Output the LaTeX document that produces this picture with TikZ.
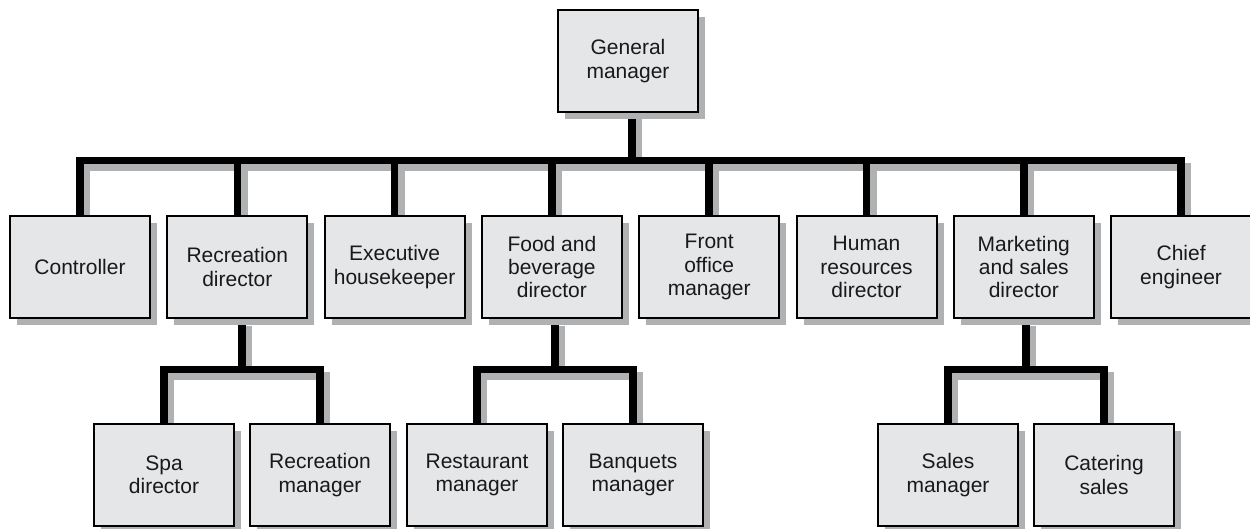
\documentclass[tikz,border=0pt]{standalone}
\usepackage{fontspec}
\setmainfont{Liberation Sans}
\usetikzlibrary{shadows,calc}
\definecolor{boxfill}{RGB}{229,230,232}
\definecolor{shade}{RGB}{176,177,179}
\pgfdeclarelayer{back}
\pgfsetlayers{back,main}

\tikzset{
  unit/.style={draw=black, line width=2pt, fill=boxfill,
    minimum width=140pt, minimum height=102pt, inner sep=0pt,
    align=center, text=black!90, font=\fontsize{21}{23.4}\selectfont,
    general shadow={fill=shade, shadow xshift=7pt, shadow yshift=-7pt}},
  link/.style={line width=7.5pt, line join=miter, draw=black},
  linkshade/.style={line width=7.5pt, line join=miter, draw=shade},
}

% all reporting lines of the chart, drawn in the given style
\newcommand\orglinks[1]{%
  \draw[#1] (ctl.north) -- (ctl.north |- busA) -- (ce.north |- busA) -- (ce.north);
  \foreach \n in {rd,eh,fb,fo,hr,ms} \draw[#1] (\n.north) -- (\n.north |- busA);
  \draw[#1] (gm.south -| gmdrop) -- (gmdrop |- busA);
  % recreation branch
  \draw[#1] (spa.north) -- (spa.north |- busB) -- (rm.north |- busB) -- (rm.north);
  \draw[#1] (rd.south -| mA) -- (mA |- busB);
  % food and beverage branch
  \draw[#1] (rs.north) -- (rs.north |- busB) -- (bq.north |- busB) -- (bq.north);
  \draw[#1] (fb.south -| mB) -- (mB |- busB);
  % marketing branch
  \draw[#1] (sm.north) -- (sm.north |- busB) -- (cs.north |- busB) -- (cs.north);
  \draw[#1] (ms.south -| mC) -- (mC |- busB);
}

\begin{document}
\begin{tikzpicture}[x=1pt,y=-1pt]
  \useasboundingbox (0,0) rectangle (1250,529);
  \clip (0,0) rectangle (1250,529);

  % top
  \node[unit] (gm) at (628,61) {General\\manager};

  % department heads
  \node[unit] (ctl) at (80,267)     {Controller};
  \node[unit] (rd)  at (237.3,267)  {Recreation\\director};
  \node[unit] (eh)  at (394.6,267)  {Executive\\housekeeper};
  \node[unit] (fb)  at (551.9,267)  {Food and\\beverage\\director};
  \node[unit] (fo)  at (709.2,267)  {Front\\office\\manager};
  \node[unit] (hr)  at (866.5,267)  {Human\\resources\\director};
  \node[unit] (ms)  at (1023.8,267) {Marketing\\and sales\\director};
  \node[unit] (ce)  at (1181.1,267) {Chief\\engineer};

  % second level
  \node[unit] (spa) at (164,475)  {Spa\\director};
  \node[unit] (rm)  at (320,475)  {Recreation\\manager};
  \node[unit] (rs)  at (477,475)  {Restaurant\\manager};
  \node[unit] (bq)  at (633,475)  {Banquets\\manager};
  \node[unit] (sm)  at (948,475)  {Sales\\manager};
  \node[unit] (cs)  at (1104,475) {Catering\\sales};

  % bus levels and branch midpoints
  \coordinate (busA) at (0,160.5);
  \coordinate (busB) at (0,369.5);
  \coordinate (gmdrop) at (632,0);
  \coordinate (mA) at ($(spa.north)!0.5!(rm.north)$);
  \coordinate (mB) at ($(rs.north)!0.5!(bq.north)$);
  \coordinate (mC) at ($(sm.north)!0.5!(cs.north)$);

  \begin{pgfonlayer}{back}
    \begin{scope}[transform canvas={xshift=6.5pt,yshift=-6.5pt}]
      \orglinks{linkshade}
    \end{scope}
    \orglinks{link}
  \end{pgfonlayer}
\end{tikzpicture}
\end{document}
